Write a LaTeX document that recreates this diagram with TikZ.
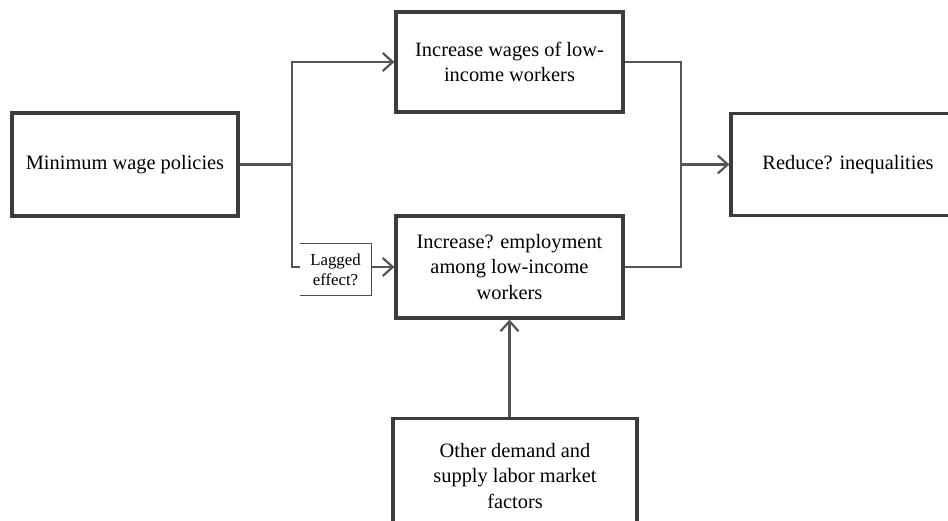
\documentclass[tikz,border=0pt]{standalone}
\usepackage{fontspec}
\setmainfont{Liberation Serif}
\usetikzlibrary{positioning}
\usetikzlibrary{arrows.meta}
\definecolor{boxgray}{HTML}{3C3C3C}
\definecolor{linegray}{HTML}{555555}
\tikzset{>={Straight Barb[length=5pt,width=9pt]}}
\tikzset{blk/.style={draw=boxgray,line width=1.6pt,fill=white,align=center,inner sep=0pt,font=\fontsize{10.2}{12.6}\selectfont}}
\tikzset{lnk/.style={draw=linegray,line width=1.1pt}}
\tikzset{lagbox/.style={fill=white,align=center,inner sep=0pt,minimum width=35.5pt,minimum height=25.5pt,font=\fontsize{8.4}{10}\selectfont}}

\begin{document}
\begin{tikzpicture}[x=0.5pt,y=-0.5pt]
\useasboundingbox (0,0) rectangle (948,520);

\node[blk,minimum width=113pt,minimum height=51.5pt] (mw) at (125,164.5) {Minimum wage policies};
\node[blk,minimum width=113.5pt,minimum height=50pt] (wg) at (509.5,62) {Increase wages of low-\\income workers};
\node[blk,minimum width=113.5pt,minimum height=51pt] (em) at (509.5,267) {Increase? employment\\among low-income\\workers};
\node[blk,minimum width=117pt,minimum height=51pt] (rd) at (848,164.5) {Reduce? inequalities};
\node[blk,minimum width=122pt,minimum height=57.5pt] (ot) at (515,476) {Other demand and\\supply labor market\\factors};

\coordinate (jl) at (292,164.5);
\coordinate (jr) at (681,164.5);

\draw[lnk] (mw.east) -- (jl);
\draw[lnk,->] (jl) |- (wg.west);
\draw[lnk,->] (jl) |- (em.west);

% lagged label sits on the lower branch
\node[lagbox] (lag) at (335.5,269.5) {Lagged\\effect?};
\draw[draw=black!70,line width=0.5pt] (lag.north west) -- (lag.north east) -- (lag.south east) -- (lag.south west);

\draw[lnk] (wg.east) -| (jr);
\draw[lnk] (em.east) -| (jr);
\draw[lnk,->] (jr) -- (rd.west);
\draw[lnk,->] (ot.north -| em.south) -- (em.south);
\end{tikzpicture}
\end{document}
